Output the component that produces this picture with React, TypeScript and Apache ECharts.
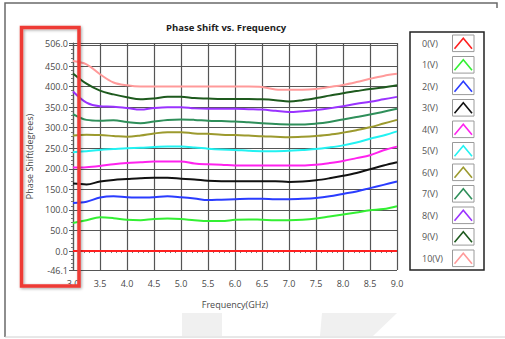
import React, { useEffect, useRef } from "react";
import * as echarts from "echarts";

// Frequency sweep (GHz)
const freqs = [3.0, 3.25, 3.5, 3.75, 4.0, 4.25, 4.5, 4.75, 5.0, 5.25, 5.5, 5.75, 6.0, 6.25, 6.5, 6.75, 7.0, 7.25, 7.5, 7.75, 8.0, 8.25, 8.5, 8.75, 9.0];

// Phase shift (degrees) per bias voltage
const v0 = [0, 0, 0, 0, 0, 0, 0, 0, 0, 0, 0, 0, 0, 0, 0, 0, 0, 0, 0, 0, 0, 0, 0, 0, 0];
const v1 = [68, 75, 82, 80, 76, 75, 78, 79, 78, 75, 73, 73, 76, 77, 76, 75, 75, 76, 79, 84, 89, 94, 99, 102, 109];
const v2 = [117, 120, 130, 133, 131, 130, 131, 133, 131, 128, 124, 125, 126, 127, 127, 126, 126, 127, 129, 133, 139, 145, 153, 161, 169];
const v3 = [164, 162, 169, 173, 175, 177, 178, 178, 176, 174, 171, 170, 170, 170, 170, 170, 168, 169, 172, 177, 183, 190, 199, 208, 216];
const v4 = [203, 204, 207, 211, 214, 216, 218, 218, 218, 213, 211, 210, 208, 208, 208, 208, 208, 208, 210, 214, 219, 226, 233, 245, 254];
const v5 = [240, 243, 246, 248, 250, 251, 253, 254, 254, 252, 249, 247, 246, 244, 243, 243, 244, 246, 248, 252, 257, 264, 273, 281, 291];
const v6 = [281, 283, 282, 280, 278, 281, 286, 289, 289, 286, 285, 283, 282, 281, 279, 278, 277, 278, 280, 283, 288, 294, 301, 310, 319];
const v7 = [333, 319, 317, 318, 314, 311, 315, 319, 320, 319, 317, 316, 315, 313, 311, 309, 308, 308, 310, 314, 320, 326, 332, 339, 346];
const v8 = [388, 361, 352, 351, 348, 344, 348, 350, 350, 347, 346, 346, 346, 345, 344, 341, 338, 340, 343, 347, 352, 358, 363, 369, 375];
const v9 = [432, 407, 390, 381, 374, 369, 371, 375, 375, 372, 371, 370, 370, 370, 369, 367, 364, 367, 372, 378, 384, 389, 394, 398, 403];
const v10 = [462, 454, 430, 410, 403, 400, 400, 400, 400, 400, 400, 400, 400, 400, 399, 393, 392, 392, 394, 399, 404, 411, 419, 426, 431];

const seriesNames = ["0(V)", "1(V)", "2(V)", "3(V)", "4(V)", "5(V)", "6(V)", "7(V)", "8(V)", "9(V)", "10(V)"];
const seriesValues = [v0, v1, v2, v3, v4, v5, v6, v7, v8, v9, v10];
const seriesColors = ["#ff2020", "#33f033", "#2a3cff", "#111111", "#ff22ee", "#22f2f2", "#9c9a2e", "#2f8f5a", "#9a33ff", "#1e5a1e", "#ff9a9a"];

// Axis tick labels
const yLabelValues = [-46.1, 0, 50, 100, 150, 200, 250, 300, 350, 400, 450, 506];
const yGridValues = [-46.1, 0, 50, 100, 150, 200, 250, 300, 350, 400, 450, 500, 506];
const yMinorValues = [-40, -30, -20, -10, 10, 20, 30, 40, 60, 70, 80, 90, 110, 120, 130, 140, 160, 170, 180, 190, 210, 220, 230, 240, 260, 270, 280, 290, 310, 320, 330, 340, 360, 370, 380, 390, 410, 420, 430, 440, 460, 470, 480, 490];

const FONT = "'Open Sans', 'Noto Sans', sans-serif";
const TEXT = "#4a4a4a";
const GRID = "#555555";

export default function App() {
  const ref = useRef<HTMLDivElement>(null);

  useEffect(() => {
    if (!ref.current) return;
    const chart = echarts.init(ref.current, undefined, { renderer: "svg" });

    const legendX = 410;
    const legendY = 32;
    const rowPitch = 21.5;
    const legendRows: any[] = [];
    seriesNames.forEach((name, i) => {
      const cy = legendY + 11.3 + i * rowPitch;
      legendRows.push({
        type: "text",
        x: 422,
        y: cy,
        z: 7,
        style: { text: name, font: `9px ${FONT}`, fill: "#555", verticalAlign: "middle", align: "left" },
      });
      legendRows.push({
        type: "rect",
        z: 7,
        shape: { x: 452.5, y: cy - 8.3, width: 21.5, height: 16.6 },
        style: { fill: "#fff", stroke: "#9a9a9a", lineWidth: 1 },
      });
      legendRows.push({
        type: "polyline",
        z: 8,
        shape: { points: [[454.5, cy + 5.5], [463.3, cy - 5], [472, cy + 5.5]] },
        style: { stroke: seriesColors[i], lineWidth: 1.6, fill: null },
      });
    });

    chart.setOption({
      animation: false,
      backgroundColor: "#ffffff",
      title: {
        text: "Phase Shift vs. Frequency",
        left: 161,
        top: 17,
        textStyle: { fontFamily: FONT, fontSize: 9.5, fontWeight: "bold", color: "#222" },
      },
      grid: { left: 73, top: 43, width: 324, height: 227, containLabel: false },
      xAxis: {
        type: "value",
        min: 3,
        max: 9,
        interval: 0.5,
        name: "Frequency(GHz)",
        nameLocation: "middle",
        nameGap: 30,
        nameTextStyle: { fontFamily: FONT, fontSize: 9, color: TEXT },
        axisLine: { show: true, lineStyle: { color: GRID, width: 1.2 } },
        axisTick: { show: true, length: 3, inside: false, lineStyle: { color: GRID } },
        minorTick: { show: true, splitNumber: 5, length: 2, lineStyle: { color: "#777" } },
        axisLabel: {
          fontFamily: FONT,
          fontSize: 9,
          color: TEXT,
          margin: 9,
          formatter: (v: number) => v.toFixed(1),
        },
        splitLine: { show: true, lineStyle: { color: GRID, width: 1.2 } },
      },
      yAxis: [
        {
          type: "value",
          min: -46.1,
          max: 506,
          name: "Phase Shift(degrees)",
          nameLocation: "middle",
          nameGap: 37,
          nameTextStyle: { fontFamily: FONT, fontSize: 9, color: TEXT },
          axisLine: { show: true, lineStyle: { color: GRID, width: 1.2 } },
          axisTick: { show: true, length: 4, inside: false, customValues: yGridValues, lineStyle: { color: GRID } },
          axisLabel: {
            fontFamily: FONT,
            fontSize: 9,
            color: TEXT,
            margin: 5,
            customValues: yLabelValues,
            formatter: (v: number) => v.toFixed(1),
          },
          splitLine: { show: true, lineStyle: { color: GRID, width: 1.2 } },
        },
        {
          type: "value",
          min: -46.1,
          max: 506,
          position: "left",
          axisLine: { show: false },
          axisTick: { show: true, length: 2, inside: false, customValues: yMinorValues, lineStyle: { color: "#777" } },
          axisLabel: { show: false },
          splitLine: { show: false },
        },
      ],
      series: seriesValues.map((vals, i) => ({
        name: seriesNames[i],
        type: "line",
        data: freqs.map((f, j) => [f, vals[j]]),
        smooth: 0.35,
        showSymbol: false,
        symbol: "none",
        lineStyle: { color: seriesColors[i], width: 2 },
        itemStyle: { color: seriesColors[i] },
        z: 3,
      })),
      graphic: [
        // page frame
        {
          type: "polyline",
          z: 1,
          shape: { points: [[5, 337], [5, 3], [497, 3], [497, 8]] },
          style: { stroke: "#6a6a6a", lineWidth: 1.5, fill: null },
        },
        {
          type: "line",
          z: 1,
          shape: { x1: 5, y1: 337, x2: 505, y2: 337 },
          style: { stroke: "#d0d0d0", lineWidth: 1 },
        },
        // faint watermark
        {
          type: "polygon",
          z: 0,
          shape: { points: [[182, 313], [222, 313], [222, 336], [182, 336]] },
          style: { fill: "#f0f0f0" },
        },
        {
          type: "polygon",
          z: 0,
          shape: { points: [[322, 313], [397, 313], [373, 336], [320, 336]] },
          style: { fill: "#f0f0f0" },
        },
        // legend panel
        {
          type: "rect",
          z: 5,
          shape: { x: legendX, y: legendY, width: 74, height: 238 },
          style: { fill: "#fff", stroke: "#222", lineWidth: 1.5 },
        },
        ...legendRows,
        // highlight box around the y axis
        {
          type: "rect",
          z: 10,
          shape: { x: 21.5, y: 27.5, width: 57.5, height: 258.5 },
          style: {
            fill: null,
            stroke: "#ee3b35",
            lineWidth: 3.5,
            shadowBlur: 3,
            shadowColor: "rgba(0,0,0,0.35)",
            shadowOffsetX: 1,
            shadowOffsetY: 1,
          },
        },
      ],
    });

    return () => chart.dispose();
  }, []);

  return (
    <div
      ref={ref}
      style={{ position: "fixed", left: 0, top: 0, width: 505, height: 339, background: "#fff" }}
    />
  );
}
